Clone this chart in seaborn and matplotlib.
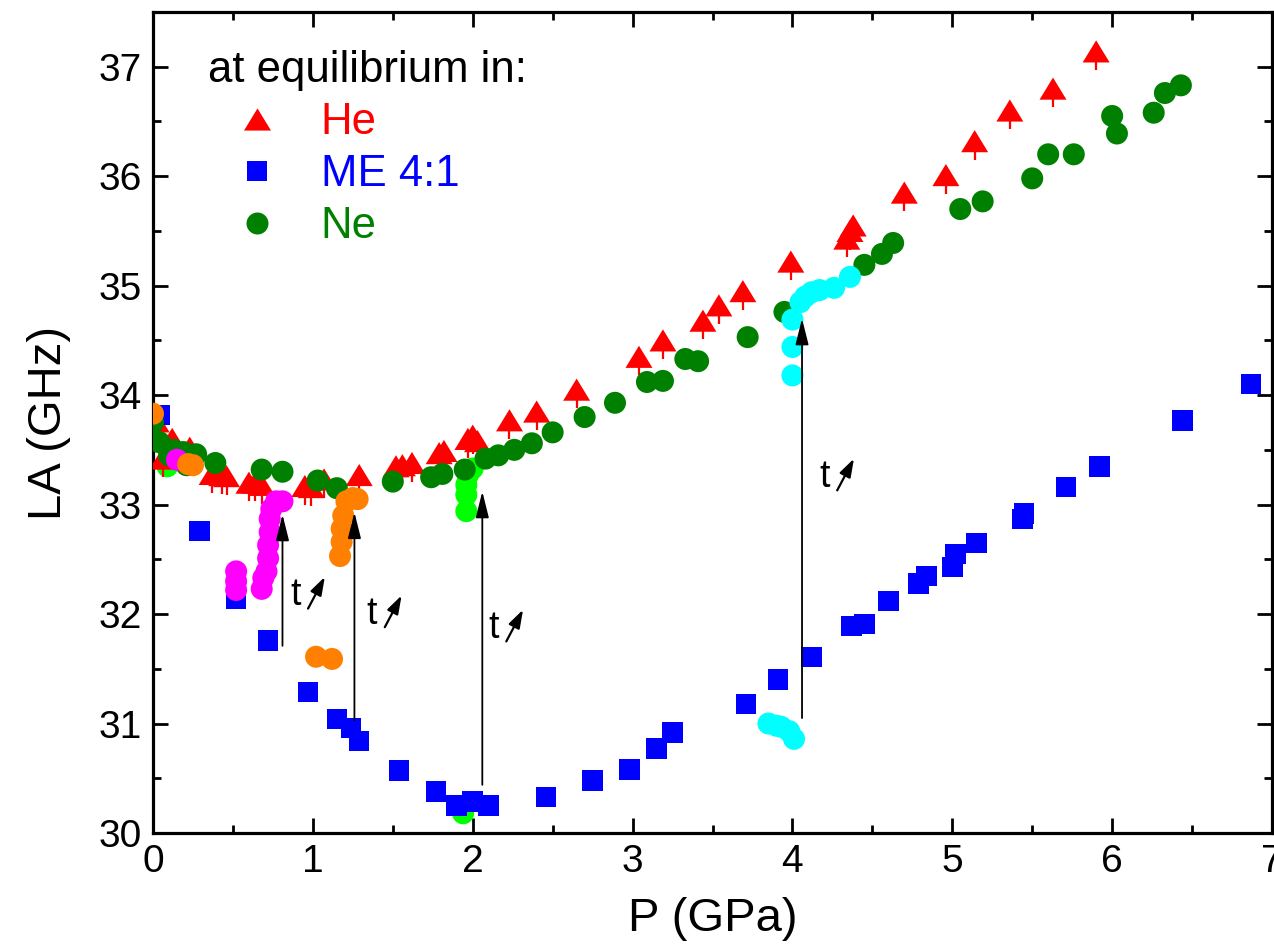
import numpy as np
import pandas as pd
import matplotlib
matplotlib.use("Agg")
import matplotlib.pyplot as plt
from matplotlib.markers import MarkerStyle
from matplotlib.lines import Line2D
from matplotlib.ticker import MultipleLocator
import seaborn as sns

# ---- equilibrium data: LA frequency (GHz) vs pressure (GPa) ----
he_p = [0.02, 0.06, 0.12, 0.23, 0.37, 0.43, 0.46, 0.60, 0.64, 0.68, 0.95, 0.99,
        1.07, 1.29, 1.52, 1.56, 1.62, 1.79, 1.82, 1.97, 2.00, 2.03, 2.23, 2.40,
        2.65, 3.04, 3.19, 3.44, 3.54, 3.69, 3.99, 4.34, 4.36, 4.38, 4.70, 4.96,
        5.14, 5.36, 5.63, 5.90]
he_la = [33.76, 33.42, 33.60, 33.52, 33.28, 33.27, 33.26, 33.20, 33.20, 33.18, 33.17, 33.16,
         33.23, 33.27, 33.35, 33.36, 33.38, 33.47, 33.49, 33.60, 33.63, 33.58, 33.77, 33.85,
         34.05, 34.35, 34.50, 34.68, 34.82, 34.95, 35.22, 35.43, 35.50, 35.55, 35.85, 36.01,
         36.32, 36.60, 36.80, 37.14]
he_err = [0.17] * len(he_p)

me_p = [0.04, 0.29, 0.52, 0.72, 0.97, 1.15, 1.24, 1.29, 1.54, 1.77, 1.90, 2.00,
        2.10, 2.46, 2.75, 2.98, 3.15, 3.25, 3.71, 3.91, 4.12, 4.37, 4.45, 4.60,
        4.79, 4.84, 5.00, 5.02, 5.15, 5.44, 5.45, 5.71, 5.92, 6.44, 6.87]
me_la = [33.82, 32.76, 32.14, 31.76, 31.29, 31.04, 30.96, 30.84, 30.57, 30.38, 30.25, 30.29,
         30.25, 30.33, 30.48, 30.58, 30.77, 30.92, 31.18, 31.40, 31.61, 31.89, 31.91, 32.12,
         32.28, 32.35, 32.43, 32.55, 32.65, 32.87, 32.92, 33.16, 33.35, 33.77, 34.10]

ne_p = [0.00, 0.04, 0.10, 0.13, 0.19, 0.21, 0.27, 0.39, 0.68, 0.81, 1.03, 1.15,
        1.50, 1.74, 1.81, 1.95, 2.08, 2.16, 2.26, 2.37, 2.50, 2.70, 2.89, 3.09,
        3.19, 3.33, 3.41, 3.72, 3.95, 4.45, 4.56, 4.63, 5.05, 5.19, 5.50, 5.60,
        5.76, 6.00, 6.03, 6.26, 6.33, 6.43]
ne_la = [33.75, 33.57, 33.45, 33.50, 33.48, 33.36, 33.46, 33.38, 33.32, 33.30, 33.22, 33.15,
         33.21, 33.25, 33.28, 33.32, 33.42, 33.45, 33.50, 33.56, 33.66, 33.80, 33.93, 34.12,
         34.13, 34.33, 34.31, 34.53, 34.76, 35.19, 35.29, 35.39, 35.70, 35.77, 35.98, 36.20,
         36.20, 36.55, 36.39, 36.58, 36.76, 36.83]

# ---- time evolution after pressure changes ----
mag_p = [0.15, 0.52, 0.52, 0.52, 0.68, 0.69, 0.71, 0.72, 0.72, 0.73, 0.73, 0.74, 0.77, 0.81]
mag_la = [33.41, 32.39, 32.30, 32.22, 32.23, 32.33, 32.39, 32.51, 32.63, 32.75, 32.87, 32.96, 33.03, 33.03]

org_p = [0.00, 0.22, 0.25, 1.02, 1.12, 1.17, 1.18, 1.18, 1.19, 1.21, 1.25, 1.28]
org_la = [33.83, 33.37, 33.36, 31.61, 31.59, 32.53, 32.66, 32.78, 32.90, 33.03, 33.06, 33.05]

lime_p = [0.09, 1.94, 1.96, 1.96, 1.96, 1.97, 2.00]
lime_la = [33.35, 30.18, 32.94, 33.09, 33.18, 33.27, 33.33]

cyan_p = [3.85, 3.90, 3.93, 3.98, 4.01, 4.00, 4.00, 4.00, 4.05, 4.08, 4.12, 4.17, 4.26, 4.36]
cyan_la = [31.00, 30.98, 30.97, 30.93, 30.86, 34.18, 34.44, 34.69, 34.85, 34.90, 34.94, 34.96, 34.98, 35.08]

# vertical transition arrows
arr_p = [0.81, 1.26, 2.06, 4.06]
arr_from = [31.71, 31.03, 30.44, 31.05]
arr_to = [32.91, 32.93, 33.12, 34.70]

# "t" labels with a small time arrow
t_p = [0.89, 1.37, 2.13, 4.20]
t_la = [32.17, 32.00, 31.87, 33.25]

legend_title = "at equilibrium in:"
series_labels = ["He", "ME 4:1", "Ne"]

# ---- style ----
sns.set_theme(style="ticks")
plt.rcParams["font.family"] = ["Liberation Sans", "DejaVu Sans"]
plt.rcParams["text.color"] = "black"
plt.rcParams["axes.labelcolor"] = "black"
plt.rcParams["xtick.color"] = "black"
plt.rcParams["ytick.color"] = "black"
plt.rcParams["xtick.labelcolor"] = "black"
plt.rcParams["ytick.labelcolor"] = "black"

fig = plt.figure(figsize=(12.74, 9.48), dpi=100)
W, H = 1274, 948
ax = fig.add_axes([153 / W, 1 - 833 / H, (1272 - 153) / W, (833 - 12) / H])

px = 0.72  # points per pixel at 100 dpi
tri = MarkerStyle([(-1, -0.82), (1, -0.82), (0, 0.82)])
s_tri = (27 * px) ** 2
s_sq = (20.5 * px) ** 2
s_o = (22 * px) ** 2

# lower error bars on He points
ax.errorbar(he_p, he_la, yerr=[he_err, [0] * len(he_err)], fmt="none",
            ecolor="#ff0000", elinewidth=1.6, capsize=0, zorder=2)

def scat(x, y, marker, s, color, z):
    sns.scatterplot(x=x, y=y, marker=marker, s=s, color=color, linewidth=0,
                    edgecolor="none", ax=ax, zorder=z, legend=False)

scat(lime_p, lime_la, "o", s_o, "#00ff00", 1)
scat(he_p, he_la, tri, s_tri, "#ff0000", 3)
scat(me_p, me_la, "s", s_sq, "#0000ff", 4)
scat(ne_p, ne_la, "o", s_o, "#008000", 5)
scat(mag_p, mag_la, "o", s_o, "#ff00ff", 6)
scat(org_p, org_la, "o", s_o, "#ff8000", 7)
scat(cyan_p, cyan_la, "o", s_o, "#00ffff", 8)

# transition arrows
for x, y0, y1 in zip(arr_p, arr_from, arr_to):
    ax.annotate("", xy=(x, y1), xytext=(x, y0),
                arrowprops=dict(arrowstyle="-|>,head_length=0.8,head_width=0.2",
                                mutation_scale=20, lw=1.3, color="black",
                                shrinkA=0, shrinkB=0), zorder=9)

for x, y in zip(t_p, t_la):
    ax.text(x, y, "t", fontsize=27, ha="center", va="center", zorder=9)
    ax.annotate("", xy=(x + 0.185, y + 0.17), xytext=(x + 0.08, y - 0.12),
                arrowprops=dict(arrowstyle="-|>,head_length=0.55,head_width=0.18",
                                mutation_scale=20, lw=1.6, color="black",
                                shrinkA=0, shrinkB=0), zorder=9)

ax.set_xlim(0, 7)
ax.set_ylim(30, 37.5)
ax.xaxis.set_major_locator(MultipleLocator(1))
ax.xaxis.set_minor_locator(MultipleLocator(0.5))
ax.yaxis.set_major_locator(MultipleLocator(1))
ax.yaxis.set_minor_locator(MultipleLocator(0.5))
ax.tick_params(which="both", direction="in", top=True, right=True,
               width=2.0, color="black", labelcolor="black")
ax.tick_params(which="major", length=11, labelsize=28, pad=8)
ax.tick_params(which="minor", length=5.5)
for sp in ax.spines.values():
    sp.set_linewidth(2.3)
    sp.set_color("black")

ax.set_xlabel("P (GPa)", fontsize=34, labelpad=12, color="black")
ax.set_ylabel("LA (GHz)", fontsize=34, labelpad=20, color="black")

handles = [
    Line2D([], [], linestyle="none", marker=tri, markersize=27 * px,
           markerfacecolor="#ff0000", markeredgewidth=0),
    Line2D([], [], linestyle="none", marker="s", markersize=20.5 * px,
           markerfacecolor="#0000ff", markeredgewidth=0),
    Line2D([], [], linestyle="none", marker="o", markersize=22 * px,
           markerfacecolor="#008000", markeredgewidth=0),
]
leg = ax.legend(handles, series_labels, title=legend_title, loc="upper left",
                bbox_to_anchor=(208 / W, 1 - 50 / H), bbox_transform=fig.transFigure,
                frameon=False, borderpad=0, borderaxespad=0, alignment="left",
                fontsize=31.5, title_fontsize=31.5, handlelength=2.24,
                handletextpad=0.34, labelspacing=0.25,
                labelcolor="markerfacecolor", numpoints=1)
leg.get_title().set_color("black")

fig.savefig("out.png", dpi=100)
